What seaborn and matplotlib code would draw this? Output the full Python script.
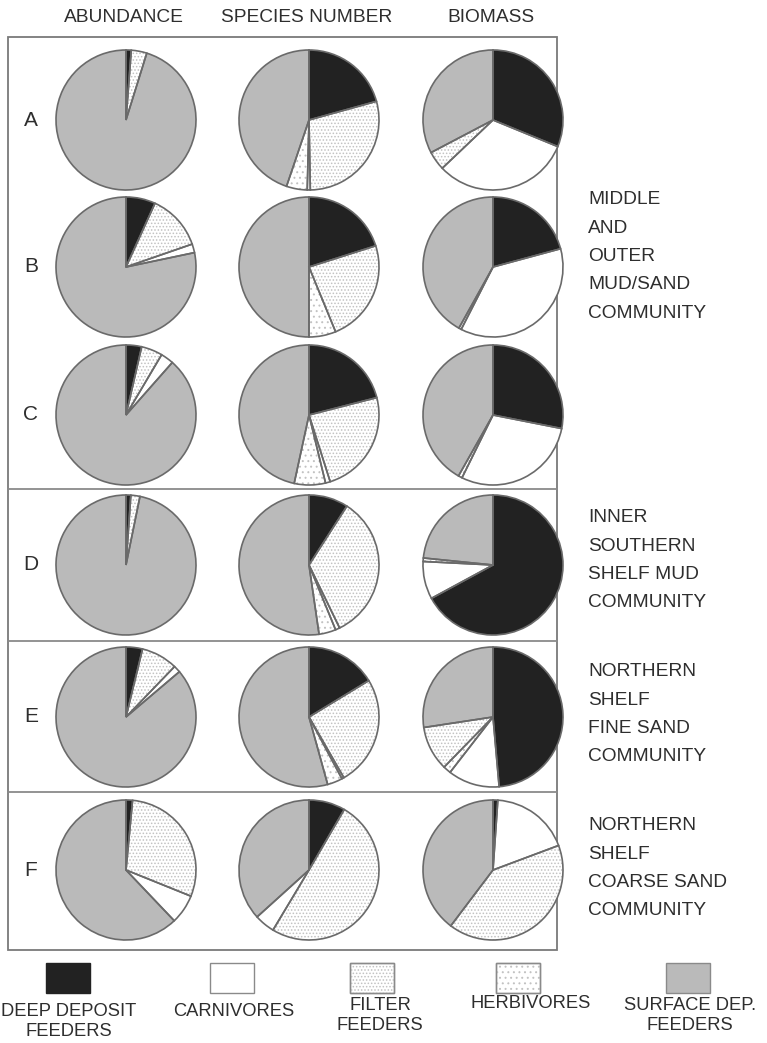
import matplotlib
matplotlib.use("Agg")
import matplotlib.pyplot as plt
from matplotlib.patches import Rectangle
import seaborn as sns

# ---- data -------------------------------------------------------------
groups = ["DEEP DEPOSIT\nFEEDERS", "CARNIVORES", "FILTER\nFEEDERS", "HERBIVORES", "SURFACE DEP.\nFEEDERS"]
stations = ["A", "B", "C", "D", "E", "F"]
measures = ["ABUNDANCE", "SPECIES NUMBER", "BIOMASS"]

# percentages per station, columns in the order of `groups`
abundance = [
    [1.2, 0.0, 3.6, 0.0, 95.2],
    [6.8, 2.0, 12.9, 0.0, 78.3],
    [3.6, 3.0, 4.9, 0.0, 88.5],
    [1.1, 0.0, 2.1, 0.0, 96.8],
    [3.8, 1.6, 8.4, 0.0, 86.2],
    [1.5, 6.8, 29.6, 0.0, 62.1],
]
species_number = [
    [20.7, 0.7, 29.0, 4.8, 44.8],
    [20.1, 0.0, 23.7, 6.2, 50.0],
    [21.0, 1.1, 24.1, 7.2, 46.6],
    [9.1, 1.0, 33.7, 3.9, 52.3],
    [16.3, 0.5, 25.4, 3.5, 54.3],
    [8.4, 4.7, 50.2, 0.0, 36.7],
]
biomass = [
    [31.2, 31.7, 4.4, 0.0, 32.7],
    [20.8, 36.7, 0.0, 0.6, 41.9],
    [28.1, 29.2, 0.0, 0.9, 41.8],
    [67.1, 8.7, 0.0, 0.8, 23.4],
    [48.6, 11.9, 10.3, 1.8, 27.4],
    [1.1, 18.2, 41.0, 0.0, 39.7],
]
# clockwise order of the wedges (indices into `groups`) for each measure
wedge_order = [
    [0, 2, 1, 3, 4],
    [0, 2, 1, 3, 4],
    [0, 1, 3, 2, 4],
]
communities = [
    ("B", ["MIDDLE", "AND", "OUTER", "MUD/SAND", "COMMUNITY"]),
    ("D", ["INNER", "SOUTHERN", "SHELF MUD", "COMMUNITY"]),
    ("E", ["NORTHERN", "SHELF", "FINE SAND", "COMMUNITY"]),
    ("F", ["NORTHERN", "SHELF", "COARSE SAND", "COMMUNITY"]),
]

# ---- style ------------------------------------------------------------
sns.set_theme(style="white")
plt.rcParams["font.family"] = ["Liberation Sans", "DejaVu Sans"]
plt.rcParams["hatch.linewidth"] = 0.7

INK = "#2e2e2e"
EDGE = "#6a6a6a"
DOT = "#c2c2c2"
fills = ["#222222", "#ffffff", "#ffffff", "#ffffff", "#bababa"]
hatches = [None, None, ".....", "...", None]

W, H = 767, 1043
fig = plt.figure(figsize=(W / 100, H / 100), dpi=100)
fig.patch.set_facecolor("white")

ov = fig.add_axes([0, 0, 1, 1])
ov.set_xlim(0, W)
ov.set_ylim(H, 0)
ov.axis("off")

col_x = [126, 309, 493]
row_y = [120, 267, 415, 565, 717, 870]
R = 70
PAD = 3

# frame and separators between communities
frame_l, frame_r, frame_t, frame_b = 8, 557, 37, 950
ov.add_patch(Rectangle((frame_l, frame_t), frame_r - frame_l, frame_b - frame_t,
                       fill=False, edgecolor="#7a7a7a", lw=1.3))
for ysep in [489, 641, 792]:
    ov.plot([frame_l, frame_r], [ysep, ysep], color="#8a8a8a", lw=1.3)

fs = 13.8
for x, name in zip(col_x, measures):
    ov.text(x - 2, 18, name, ha="center", va="center", fontsize=fs, color=INK)
for y, s in zip(row_y, stations):
    ov.text(31, y, s, ha="center", va="center", fontsize=15, color=INK)

first_y = {"B": 200, "D": 518, "E": 672, "F": 826}
for st, lines in communities:
    for i, line in enumerate(lines):
        ov.text(588, first_y[st] + 28.3 * i, line, ha="left", va="center",
                fontsize=fs, color=INK)


def draw_pie(ax, values, order):
    vals = [values[k] for k in order if values[k] > 0]
    cats = [k for k in order if values[k] > 0]
    # fill layer (carries the dot hatching in a light grey)
    base, _ = ax.pie(vals, startangle=90, counterclock=False, radius=1,
                     colors=[fills[k] for k in cats],
                     wedgeprops=dict(edgecolor=DOT, linewidth=0))
    for w, k in zip(base, cats):
        if hatches[k]:
            w.set_hatch(hatches[k])
    # outline layer
    ax.pie(vals, startangle=90, counterclock=False, radius=1,
           wedgeprops=dict(fill=False, edgecolor=EDGE, linewidth=1.2))
    lim = 1 + PAD / R
    ax.set_xlim(-lim, lim)
    ax.set_ylim(-lim, lim)
    ax.set_aspect("equal")
    ax.axis("off")


tables = [abundance, species_number, biomass]
for c, table in enumerate(tables):
    for r, values in enumerate(table):
        cx, cy = col_x[c], row_y[r]
        rect = [(cx - R - PAD) / W, 1 - (cy + R + PAD) / H,
                (2 * R + 2 * PAD) / W, (2 * R + 2 * PAD) / H]
        ax = fig.add_axes(rect)
        draw_pie(ax, values, wedge_order[c])

# key
key_x = [68, 232, 372, 518, 688]
label_x = [69, 234, 380, 531, 690]
label_y = [1012, 1012, 1005, 1004, 1005]
fs_key = 13.2
for k, name in enumerate(groups):
    bx = key_x[k]
    ov.add_patch(Rectangle((bx - 22, 963), 44, 30, facecolor=fills[k],
                           edgecolor="#8a8a8a" if k else fills[k], lw=1.0))
    if hatches[k]:
        ov.add_patch(Rectangle((bx - 22, 963), 44, 30, facecolor="none",
                               edgecolor=DOT, lw=0, hatch=hatches[k]))
        ov.add_patch(Rectangle((bx - 22, 963), 44, 30, fill=False,
                               edgecolor="#8a8a8a", lw=1.0))
    for i, line in enumerate(name.split("\n")):
        ov.text(label_x[k], label_y[k] + 20 * i, line, ha="center", va="center",
                fontsize=fs_key, color=INK)

fig.savefig("out.png", dpi=100, facecolor="white")
